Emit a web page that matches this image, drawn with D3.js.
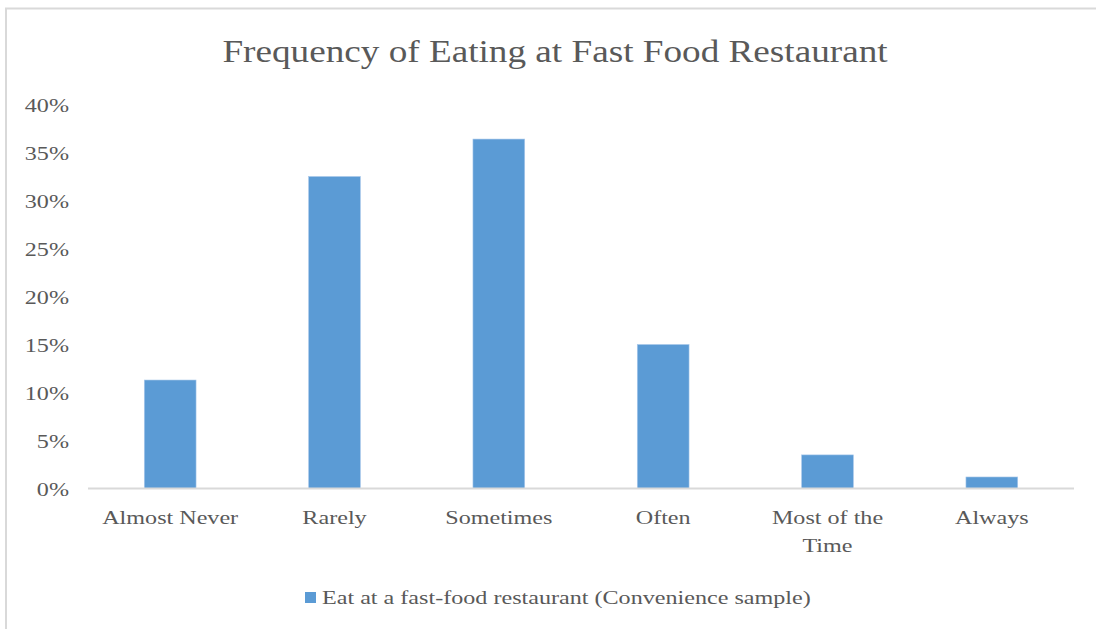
<!DOCTYPE html>
<html>
<head>
<meta charset="utf-8">
<script src="https://cdn.jsdelivr.net/npm/d3@7"></script>
<style>
  html, body { margin: 0; padding: 0; background: #fff; }
  svg { display: block; }
  text { font-family: "Liberation Serif", "Times New Roman", serif; fill: #595959; }
</style>
</head>
<body>
<svg id="chart" width="1096" height="629"></svg>
<script>
// Survey results: how often respondents eat at a fast-food restaurant
const categories = ["Almost Never", "Rarely", "Sometimes", "Often", "Most of the Time", "Always"];
const categoryLines = [["Almost Never"], ["Rarely"], ["Sometimes"], ["Often"], ["Most of the", "Time"], ["Always"]];
const shares = [0.113, 0.325, 0.364, 0.150, 0.035, 0.012];
const yTicks = [0, 0.05, 0.10, 0.15, 0.20, 0.25, 0.30, 0.35, 0.40];
const seriesName = "Eat at a fast-food restaurant (Convenience sample)";
const chartTitle = "Frequency of Eating at Fast Food Restaurant";

const svg = d3.select("#chart");
const barColor = "#5b9bd5";
const axisColor = "#d9d9d9";
const textStretch = 1.27;   // wide-set serif lettering
const titleStretch = 1.2;

// Chart frame (extends past the visible area on right and bottom)
svg.append("rect")
  .attr("x", 6).attr("y", 8.5)
  .attr("width", 1200).attr("height", 800)
  .attr("fill", "#fff")
  .attr("stroke", axisColor).attr("stroke-width", 2);

const plot = { left: 88, right: 1074, top: 104.5, bottom: 488.5 };

const x = d3.scaleBand()
  .domain(categories)
  .range([plot.left, plot.right])
  .paddingInner(0.685)
  .paddingOuter(0.3425);

const y = d3.scaleLinear()
  .domain([0, 0.40])
  .range([plot.bottom, plot.top]);

// Title
svg.append("g")
  .attr("transform", `translate(555,62) scale(${titleStretch},1)`)
  .append("text")
  .attr("text-anchor", "middle")
  .style("font-size", "31px")
  .text(chartTitle);

// Y axis labels (no axis line, no gridlines)
const yAxis = d3.axisLeft(y)
  .tickValues(yTicks)
  .tickFormat(d3.format(".0%"))
  .tickSize(0)
  .tickPadding(0);

const yG = svg.append("g")
  .attr("transform", `translate(69,0)`)
  .call(yAxis);
yG.select(".domain").remove();
yG.selectAll("text")
  .attr("x", 0)
  .attr("dy", "0.35em")
  .attr("transform", `scale(${textStretch},1)`)
  .style("font-family", "'Liberation Serif', 'Times New Roman', serif")
  .style("font-size", "19px")
  .attr("fill", "#595959");

// Bars
svg.append("g").selectAll("rect")
  .data(shares)
  .join("rect")
  .attr("x", (d, i) => x(categories[i]))
  .attr("width", x.bandwidth())
  .attr("y", d => y(d))
  .attr("height", d => y(0) - y(d))
  .attr("fill", barColor)
  .attr("stroke", "#a9c8ea")
  .attr("stroke-width", 0.6);

// Category axis: baseline + wrapped labels
const xAxis = d3.axisBottom(x).tickSize(0).tickFormat("");
const xG = svg.append("g")
  .attr("transform", `translate(0,${plot.bottom})`)
  .call(xAxis);
xG.select(".domain")
  .attr("d", `M${plot.left},0H${plot.right}`)
  .attr("stroke", axisColor)
  .attr("stroke-width", 2);

const labelG = svg.append("g");
categories.forEach((c, i) => {
  const t = labelG.append("g")
    .attr("transform", `translate(${x(c) + x.bandwidth() / 2},524) scale(${textStretch},1)`)
    .append("text")
    .attr("text-anchor", "middle")
    .style("font-size", "19px");
  categoryLines[i].forEach((line, j) => {
    t.append("tspan")
      .attr("x", 0)
      .attr("dy", j === 0 ? 0 : 28)
      .text(line);
  });
});

// Legend
const legend = svg.append("g");
legend.append("rect")
  .attr("x", 305).attr("y", 592)
  .attr("width", 11).attr("height", 11)
  .attr("fill", barColor);
legend.append("g")
  .attr("transform", `translate(322,604) scale(${textStretch},1)`)
  .append("text")
  .style("font-size", "19px")
  .text(seriesName);
</script>
</body>
</html>
